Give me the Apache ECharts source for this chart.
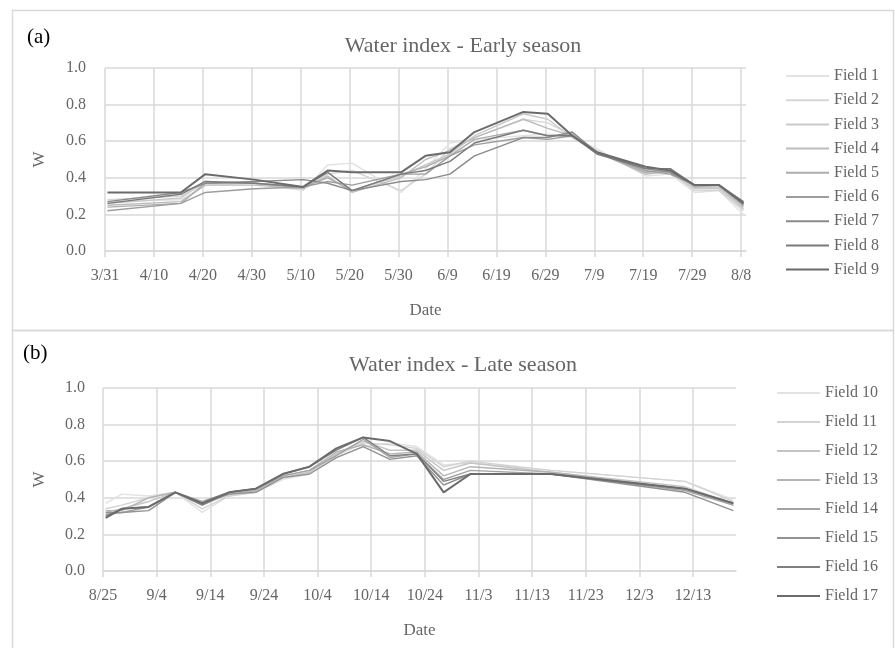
<!DOCTYPE html>
<html>
<head>
<meta charset="utf-8">
<script src="https://cdn.jsdelivr.net/npm/echarts@6/dist/echarts.min.js"></script>
<style>
  html, body { margin: 0; padding: 0; background: #fff; }
  #chart { width: 895px; height: 648px; }
</style>
</head>
<body>
<div id="chart"></div>
<script>
// ---- Early season (fields 1-9) ----
const earlyDates = ['3/31','4/15','4/20','4/30','5/10','5/15','5/20','5/30','6/4','6/9',
                    '6/14','6/24','6/29','7/4','7/9','7/19','7/24','7/29','8/3','8/8'];
const earlyTicks = ['3/31','4/10','4/20','4/30','5/10','5/20','5/30','6/9','6/19','6/29','7/9','7/19','7/29','8/8'];
const earlyNames = ['Field 1','Field 2','Field 3','Field 4','Field 5','Field 6','Field 7','Field 8','Field 9'];
const field1 = [0.27,0.28,0.36,0.37,0.33,0.47,0.48,0.32,0.45,0.59,0.61,0.63,0.64,0.62,0.56,0.41,0.42,0.32,0.33,0.20];
const field2 = [0.28,0.30,0.37,0.37,0.34,0.42,0.44,0.33,0.42,0.56,0.62,0.72,0.70,0.63,0.55,0.42,0.43,0.33,0.33,0.22];
const field3 = [0.26,0.29,0.38,0.37,0.35,0.43,0.33,0.41,0.47,0.53,0.63,0.75,0.72,0.62,0.54,0.43,0.43,0.34,0.34,0.23];
const field4 = [0.25,0.27,0.36,0.36,0.34,0.41,0.32,0.40,0.50,0.55,0.62,0.72,0.67,0.63,0.54,0.42,0.44,0.35,0.35,0.24];
const field5 = [0.24,0.26,0.37,0.37,0.35,0.40,0.33,0.42,0.46,0.52,0.61,0.66,0.63,0.64,0.54,0.43,0.45,0.35,0.36,0.25];
const field6 = [0.22,0.26,0.32,0.34,0.35,0.38,0.36,0.42,0.42,0.52,0.58,0.62,0.61,0.63,0.54,0.44,0.42,0.36,0.36,0.25];
const field7 = [0.27,0.32,0.37,0.38,0.39,0.37,0.33,0.38,0.39,0.42,0.52,0.62,0.62,0.65,0.54,0.45,0.43,0.36,0.36,0.26];
const field8 = [0.26,0.31,0.38,0.37,0.35,0.43,0.33,0.42,0.44,0.49,0.59,0.66,0.63,0.63,0.53,0.45,0.45,0.36,0.36,0.27];
const field9 = [0.32,0.32,0.42,0.39,0.35,0.44,0.43,0.43,0.52,0.54,0.65,0.76,0.75,0.63,0.54,0.46,0.44,0.36,0.36,0.26];

// ---- Late season (fields 10-17) ----
const lateDates = ['8/25','8/28','9/2','9/7','9/12','9/17','9/22','9/27','10/2','10/7',
                   '10/12','10/17','10/22','10/27','11/1','11/16','12/11','12/20'];
const lateTicks = ['8/25','9/4','9/14','9/24','10/4','10/14','10/24','11/3','11/13','11/23','12/3','12/13'];
const lateNames = ['Field 10','Field 11','Field 12','Field 13','Field 14','Field 15','Field 16','Field 17'];
const field10 = [0.37,0.42,0.41,0.43,0.32,0.41,0.43,0.50,0.53,0.62,0.68,0.70,0.68,0.58,0.59,0.55,0.49,0.39];
const field11 = [0.34,0.36,0.40,0.43,0.34,0.41,0.43,0.51,0.54,0.63,0.70,0.69,0.67,0.57,0.60,0.55,0.49,0.38];
const field12 = [0.32,0.34,0.38,0.43,0.36,0.42,0.44,0.51,0.54,0.64,0.71,0.66,0.66,0.55,0.59,0.54,0.46,0.37];
const field13 = [0.33,0.33,0.40,0.43,0.37,0.42,0.44,0.52,0.55,0.65,0.69,0.64,0.65,0.52,0.57,0.54,0.45,0.36];
const field14 = [0.31,0.32,0.35,0.43,0.38,0.43,0.45,0.52,0.55,0.63,0.72,0.62,0.64,0.50,0.55,0.53,0.44,0.36];
const field15 = [0.32,0.32,0.33,0.43,0.37,0.42,0.43,0.51,0.53,0.62,0.68,0.61,0.63,0.47,0.53,0.53,0.43,0.33];
const field16 = [0.30,0.34,0.35,0.43,0.36,0.43,0.45,0.53,0.57,0.66,0.73,0.63,0.64,0.49,0.53,0.53,0.45,0.37];
const field17 = [0.29,0.34,0.35,0.43,0.37,0.43,0.45,0.53,0.57,0.67,0.73,0.71,0.64,0.43,0.53,0.53,0.45,0.37];

const earlyValues = [field1, field2, field3, field4, field5, field6, field7, field8, field9];
const lateValues = [field10, field11, field12, field13, field14, field15, field16, field17];

const earlyColors = ['#e2e2e2','#d6d6d6','#c9c9c9','#bcbcbc','#adadad','#9d9d9d','#8a8a8a','#7a7a7a','#6b6b6b'];
const lateColors  = ['#e2e2e2','#d3d3d3','#c4c4c4','#b4b4b4','#a3a3a3','#929292','#7f7f7f','#6b6b6b'];

const FONT = 'Liberation Serif';
const TEXT = '#666666';
const GRID = '#d9d9d9';

// month/day string -> day number (non-leap year)
function dayNum(md) {
  const [m, d] = md.split('/').map(Number);
  return Date.UTC(2019, m - 1, d) / 86400000;
}
function offsetFrom(start) { return md => dayNum(md) - dayNum(start); }

const earlyOff = offsetFrom(earlyTicks[0]);
const lateOff = offsetFrom(lateTicks[0]);

function buildXAxis(ticks, off, lastDate, gridIndex, nameGap) {
  const tickVals = ticks.map(off);
  const labelOf = {};
  ticks.forEach((t, i) => { labelOf[tickVals[i]] = t; });
  return {
    type: 'value', gridIndex, min: 0, max: off(lastDate) + 1,
    name: 'Date', nameLocation: 'middle', nameGap,
    nameTextStyle: { fontFamily: FONT, fontSize: 17, color: TEXT },
    axisLine: { show: true, lineStyle: { color: GRID, width: 1.5 } },
    axisTick: { show: true, length: 6, lineStyle: { color: GRID, width: 1.5 }, customValues: tickVals },
    axisLabel: {
      customValues: tickVals, margin: 17,
      fontFamily: FONT, fontSize: 16, color: TEXT,
      formatter: v => labelOf[v] !== undefined ? labelOf[v] : ''
    },
    splitLine: { show: true, lineStyle: { color: GRID, width: 1.5 }, customValues: tickVals }
  };
}

function buildYAxis(gridIndex, nameGap, margin) {
  return {
    type: 'value', gridIndex, min: 0, max: 1, interval: 0.2,
    name: 'W', nameLocation: 'middle', nameGap, nameRotate: 90,
    nameTextStyle: { fontFamily: FONT, fontSize: 17, color: TEXT },
    axisLine: { show: false }, axisTick: { show: false },
    axisLabel: { margin, fontFamily: FONT, fontSize: 16, color: TEXT, formatter: v => v.toFixed(1) },
    splitLine: { show: true, lineStyle: { color: GRID, width: 1.5 } }
  };
}

function buildSeries(names, values, dates, off, colors, axisIndex) {
  return names.map((name, i) => ({
    type: 'line', name,
    xAxisIndex: axisIndex, yAxisIndex: axisIndex,
    symbol: 'none', smooth: false,
    // each observation sits in the middle of its day slot
    data: dates.map((d, j) => [off(d) + 0.5, values[i][j]]),
    lineStyle: { color: colors[i], width: i === names.length - 1 ? 2 : 1.4 },
    itemStyle: { color: colors[i] },
    emphasis: { disabled: true }
  }));
}

function buildLegend(names, left, top, gap) {
  return {
    data: names, orient: 'vertical', left, top, padding: 0,
    itemWidth: 43, itemHeight: 14, itemGap: gap,
    itemStyle: { opacity: 0 },
    textStyle: { fontFamily: FONT, fontSize: 16, color: TEXT },
    selectedMode: false
  };
}

const chart = echarts.init(document.getElementById('chart'), null, { renderer: 'canvas' });
chart.setOption({
  animation: false,
  backgroundColor: '#ffffff',
  title: [
    { text: 'Water index - Early season', left: 458, top: 30, textAlign: 'center',
      textStyle: { fontFamily: FONT, fontSize: 22, fontWeight: 'normal', color: TEXT } },
    { text: 'Water index - Late season', left: 458, top: 349, textAlign: 'center',
      textStyle: { fontFamily: FONT, fontSize: 22, fontWeight: 'normal', color: TEXT } }
  ],
  graphic: [
    { type: 'rect', shape: { x: 12.5, y: 10.5, width: 881, height: 320 }, style: { fill: 'none', stroke: GRID, lineWidth: 1.5 }, silent: true },
    { type: 'rect', shape: { x: 12.5, y: 330.5, width: 881, height: 330 }, style: { fill: 'none', stroke: GRID, lineWidth: 1.5 }, silent: true },
    { type: 'text', left: 27, top: 27, style: { text: '(a)', fontFamily: FONT, fontSize: 21, fill: '#000' } },
    { type: 'text', left: 23, top: 343, style: { text: '(b)', fontFamily: FONT, fontSize: 21, fill: '#000' } }
  ],
  legend: [
    buildLegend(earlyNames, 785, 68, 8.2),
    buildLegend(lateNames, 776, 385, 13)
  ],
  grid: [
    { left: 105, top: 68, width: 641, height: 183 },
    { left: 103, top: 388, width: 633, height: 183 }
  ],
  xAxis: [
    buildXAxis(earlyTicks, earlyOff, earlyDates[earlyDates.length - 1], 0, 51),
    buildXAxis(lateTicks, lateOff, lateDates[lateDates.length - 1], 1, 51)
  ],
  yAxis: [
    buildYAxis(0, 57, 19),
    buildYAxis(1, 55, 18)
  ],
  series: [
    ...buildSeries(earlyNames, earlyValues, earlyDates, earlyOff, earlyColors, 0),
    ...buildSeries(lateNames, lateValues, lateDates, lateOff, lateColors, 1)
  ]
});
</script>
</body>
</html>
